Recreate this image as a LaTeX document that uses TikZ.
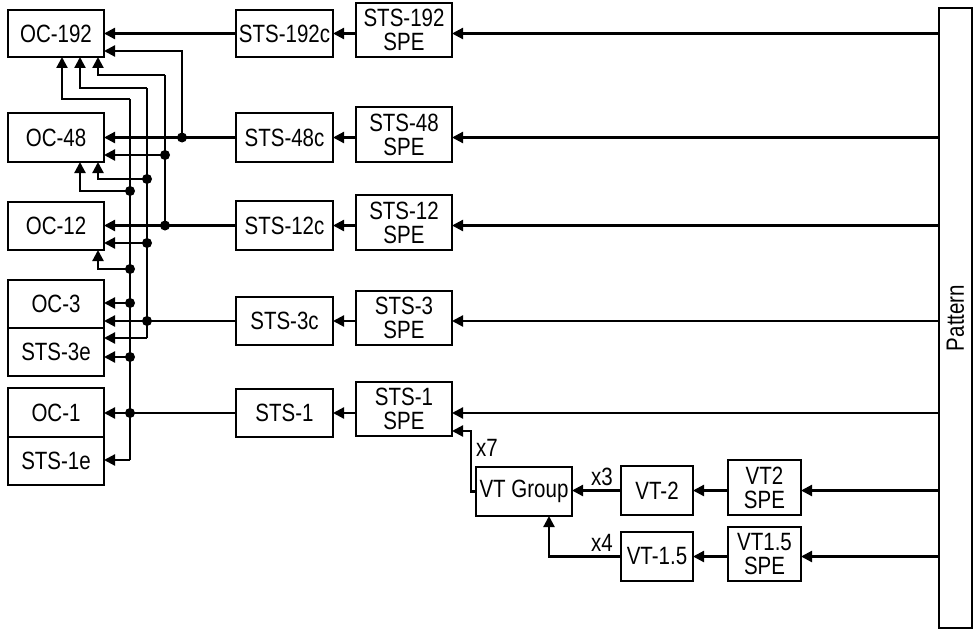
\documentclass[tikz,border=0pt]{standalone}
\usepackage{fontspec}
\setmainfont[FakeStretch=0.82]{Liberation Sans}
\usetikzlibrary{arrows.meta}

\begin{document}
\begin{tikzpicture}[x=1pt,y=-1pt,line width=2.2pt,
  box/.style={draw,inner sep=0pt,outer sep=0pt,align=center,minimum width=96pt,minimum height=48pt,
    font=\fontsize{25}{24}\selectfont},
  sig/.style={-{Triangle[length=11pt,width=11pt]}},
  tag/.style={font=\fontsize{25}{24}\selectfont,inner sep=0pt},
  dot/.style={circle,fill,inner sep=0pt,minimum size=10pt}]
  \useasboundingbox (0,0) rectangle (974,634);

  % Line side
  \node[box,minimum height=47pt] (oc192) at (56,33.5) {OC-192};
  \node[box,minimum height=49pt] (oc48) at (56,137.5) {OC-48};
  \node[box] (oc12) at (56,226) {OC-12};
  \node[box] (oc3) at (56,304) {OC-3};
  \node[box,anchor=north] (sts3e) at (oc3.south) {STS-3e};
  \node[box,minimum height=49pt] (oc1) at (56,412.5) {OC-1};
  \node[box,anchor=north] (sts1e) at (oc1.south) {STS-1e};

  % Concatenated signals
  \node[box,minimum width=97pt,minimum height=47pt] (c192) at (284.5,33.5) {STS-192c};
  \node[box,minimum width=97pt,minimum height=49pt] (c48) at (284.5,137.5) {STS-48c};
  \node[box,minimum width=97pt,minimum height=49pt] (c12) at (284.5,225.5) {STS-12c};
  \node[box,minimum width=97pt] (c3) at (284.5,321) {STS-3c};
  \node[box,minimum width=97pt] (c1) at (284.5,413) {STS-1};

  % Payloads
  \node[box,minimum height=54pt] (spe192) at (404,30) {STS-192\\SPE};
  \node[box,minimum height=55pt] (spe48) at (404,134.5) {STS-48\\SPE};
  \node[box,minimum height=55pt] (spe12) at (404,222.5) {STS-12\\SPE};
  \node[box,minimum height=54pt] (spe3) at (404,318) {STS-3\\SPE};
  \node[box,minimum height=54pt] (spe1) at (404,409) {STS-1\\SPE};

  % Virtual tributaries
  \node[box,minimum height=49pt] (vtg) at (524,491.5) {VT Group};
  \node[box,minimum width=72pt,minimum height=49pt] (vt2) at (657,490.5) {VT-2};
  \node[box,minimum width=72pt,minimum height=49pt] (vt15) at (657,556.5) {VT-1.5};
  \node[box,minimum width=73pt,minimum height=55pt] (spevt2) at (764.5,487.5) {VT2\\SPE};
  \node[box,minimum width=73pt,minimum height=54pt] (spevt15) at (764.5,554) {VT1.5\\SPE};

  % Pattern source
  \node[box,minimum width=33pt,minimum height=620pt,
    label={[rotate=90,font=\fontsize{25}{24}\selectfont]center:Pattern}] (pat) at (955.5,318) {};

  % Pattern to payloads to signals
  \foreach \s/\c in {spe192/c192,spe48/c48,spe12/c12,spe3/c3,spe1/c1,spevt2/vt2,spevt15/vt15} {
    \draw[sig] (pat.west |- \c) -- (\s.east |- \c);
    \draw[sig] (\s.west |- \c) -- (\c.east);
  }

  % VT mapping
  \draw[sig] (vt2.west) -- (vt2.west -| vtg.east);
  \draw[sig] (vt15.west) -| ([xshift=25pt]vtg.south);
  \draw[sig] (vtg.west) -- ++(-5,0) |- ([yshift=-22pt]spe1.east);
  \node[tag] (n7) at (487,448) {x7};
  \node[tag] (n3) at (602,477) {x3};
  \node[tag] (n4) at (602,543) {x4};

  % Direct feeds
  \foreach \c/\o in {c192/oc192,c48/oc48,c12/oc12,c3/oc3,c1/oc1}
    \draw[sig] (\c.west) -- (\c.west -| \o.east);

  % Taps
  \coordinate (Atop) at (130,99);  \coordinate (A48) at (130,191);
  \coordinate (A12) at (130,269);  \coordinate (A3) at (130,303);
  \coordinate (A3e) at (130,357);  \coordinate (A1) at (130,413);
  \coordinate (Abot) at (130,460);
  \coordinate (Btop) at (147,88);  \coordinate (B48) at (147,179);
  \coordinate (B12) at (147,243);  \coordinate (B3) at (147,321);
  \coordinate (Bbot) at (147,338);
  \coordinate (Ctop) at (165,75);  \coordinate (C48) at (165,155);
  \coordinate (C12) at (165,225.5);
  \coordinate (Dtop) at (182,51);  \coordinate (D48) at (182,137.5);

  % STS-1 bus
  \draw (Atop) -- (Abot);
  \draw[sig] (Atop) -| ([xshift=6pt]oc192.south);
  \draw[sig] (A48) -| ([xshift=24pt]oc48.south);
  \draw[sig] (A12) -| ([xshift=42pt]oc12.south);
  \draw[sig] (A3) -- (A3 -| oc3.east);
  \draw[sig] (A3e) -- (A3e -| sts3e.east);
  \draw[sig] (Abot) -- (Abot -| sts1e.east);

  % STS-3c bus
  \draw (Btop) -- (Bbot);
  \draw[sig] (Btop) -| ([xshift=24pt]oc192.south);
  \draw[sig] (B48) -| ([xshift=42pt]oc48.south);
  \draw[sig] (B12) -- (B12 -| oc12.east);
  \draw[sig] (Bbot) -- (Bbot -| sts3e.east);

  % STS-12c bus
  \draw (Ctop) -- (C12);
  \draw[sig] (Ctop) -| ([xshift=42pt]oc192.south);
  \draw[sig] (C48) -- (C48 -| oc48.east);

  % STS-48c bus
  \draw[sig] (D48) |- (Dtop -| oc192.east);

  % Junctions
  \foreach \j in {A48,A12,A3,A3e,A1,B48,B12,B3,C48,C12,D48}
    \node[dot] at (\j) {};
\end{tikzpicture}
\end{document}
